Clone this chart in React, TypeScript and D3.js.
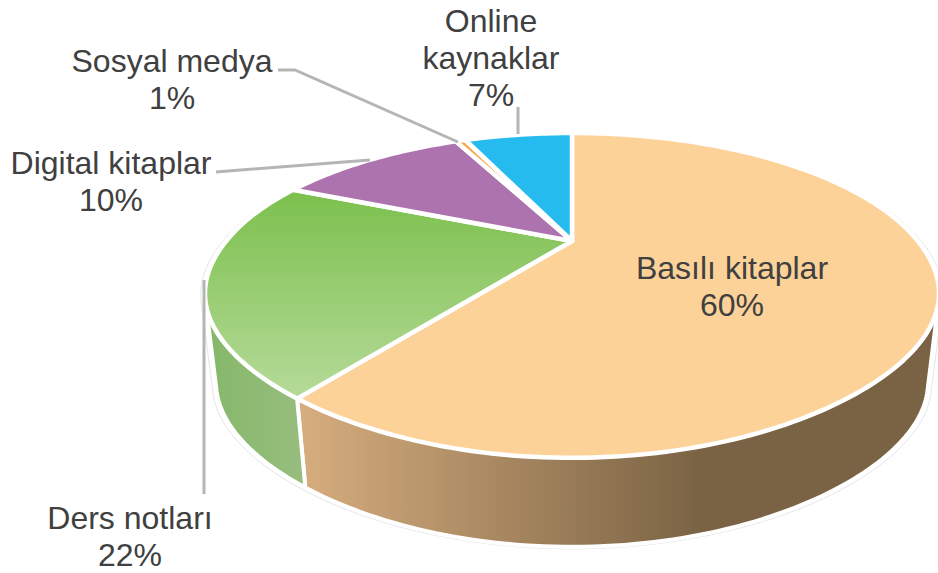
import React from "react";
import * as d3 from "d3";

const categories = ["Basılı kitaplar", "Ders notları", "Digital kitaplar", "Sosyal medya", "Online kaynaklar"];
const shares = [59.8, 21.8, 11.2, 0.6, 6.6];
const faceFills = ["#fcd299", "url(#greenFace)", "#ad73ae", "#f6a94a", "#25bbee"];
const sideFills = ["url(#brownSide)", "url(#greenSide)", "#888", "#888", "#888"];

const labelLines = [
  ["Basılı kitaplar", "60%"],
  ["Ders notları", "22%"],
  ["Digital kitaplar", "10%"],
  ["Sosyal medya", "1%"],
  ["Online", "kaynaklar", "7%"],
];
const labelAnchors = [
  [732, 279],
  [130, 529],
  [111, 174],
  [172, 72],
  [491, 32],
];
const leaders = [
  null,
  [[204, 280], [204, 494]],
  [[216, 172], [228, 171], [370, 160]],
  [[278, 70], [295, 70], [458, 142]],
  [[518, 107], [518, 134]],
];

const W = 938, H = 573;
const cx = 572, cy = 241;
const k = -0.335, b = 144.2, a = 345.8;

function rim(theta: number, r = 1): [number, number] {
  const x = Math.sin(theta) * r;
  const y = -Math.cos(theta) * r;
  const d = 1 + k * y;
  const lift = y > 0 ? 5 * Math.sin(2 * theta) ** 2 : 0;
  return [cx + (a * x) / d, cy + (b * y) / d - lift];
}
function lowerRim(theta: number): [number, number] {
  const [x, y] = rim(theta);
  return [cx + (x - cx) * 0.97, y + 89];
}
function arcSamples(t0: number, t1: number) {
  const n = Math.max(2, Math.ceil(Math.abs(t1 - t0) / 0.02));
  return d3.range(n + 1).map((i) => t0 + ((t1 - t0) * i) / n);
}
const closed = d3.line().curve(d3.curveLinearClosed);
const open = d3.line();

export default function App() {
  const arcs = d3.pie<number>().sort(null).value((d) => d)(shares);
  const sideEnd = Math.PI * 1.6;
  const outline = arcSamples(0, Math.PI * 2);
  const halo = d3.polygonHull([
    ...outline.map((t) => rim(t, 1.01)),
    ...outline.map((t) => {
      const p = lowerRim(t);
      return [p[0] + (p[0] - cx) * 0.01, p[1] + 2] as [number, number];
    }),
  ])!;
  return (
    <svg width={W} height={H} style={{ position: "absolute", left: 0, top: 0, background: "#fff" }}>
      <defs>
        <linearGradient id="greenFace" gradientUnits="userSpaceOnUse" x1="0" x2="0" y1="190" y2="395">
          <stop offset="0" stopColor="#7cc04d" />
          <stop offset="1" stopColor="#b4da98" />
        </linearGradient>
        <linearGradient id="brownSide" gradientUnits="userSpaceOnUse" x1="300" x2="700" y1="0" y2="0">
          <stop offset="0" stopColor="#d6ad7e" />
          <stop offset="1" stopColor="#7a6344" />
        </linearGradient>
        <linearGradient id="greenSide" gradientUnits="userSpaceOnUse" x1="210" x2="300" y1="0" y2="0">
          <stop offset="0" stopColor="#85b86a" />
          <stop offset="1" stopColor="#97bd7e" />
        </linearGradient>
      </defs>
      <path d={closed(halo)!} fill="#fff" stroke="#e6e6e6" strokeWidth={1} />
      {arcs.map((s, i) => {
        if (s.startAngle > sideEnd) return null;
        const e = Math.min(s.endAngle, sideEnd);
        const ts = arcSamples(s.startAngle, e);
        const hull = d3.polygonHull([...ts.map((t) => rim(t)), ...ts.map((t) => lowerRim(t))])!;
        return <path key={i} d={closed(hull)!} fill={sideFills[i]} stroke="#fff" strokeWidth={4} strokeLinejoin="round" />;
      })}
      {arcs.map((s, i) => {
        const pts = [[cx, cy] as [number, number], ...arcSamples(s.startAngle, s.endAngle).map((t) => rim(t))];
        return <path key={i} d={closed(pts)!} fill={faceFills[i]} stroke="#fff" strokeWidth={4.5} strokeLinejoin="round" />;
      })}
      {leaders.map((l, i) =>
        l ? <path key={i} d={open(l as [number, number][])!} fill="none" stroke="#b5b5b5" strokeWidth={3} /> : null
      )}
      {categories.map((c, i) => (
        <text key={c} textAnchor="middle" fontFamily="'Liberation Sans', Arial, sans-serif" fontSize={32} fill="#404040">
          {labelLines[i].map((ln, j) => (
            <tspan key={j} x={labelAnchors[i][0]} y={labelAnchors[i][1] + j * 37.2}>{ln}</tspan>
          ))}
        </text>
      ))}
    </svg>
  );
}
